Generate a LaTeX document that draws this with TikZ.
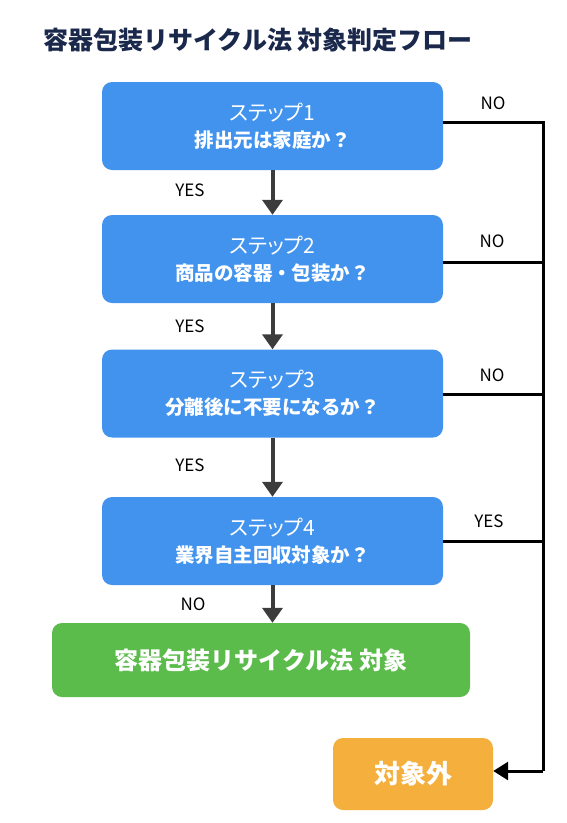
\documentclass[tikz,border=0pt]{standalone}
\usepackage{fontspec}
\setmainfont{Noto Sans CJK JP}
\newfontfamily\steplabelfont[RawFeature=+palt]{Noto Sans CJK JP}
\usetikzlibrary{arrows.meta,calc}
\definecolor{stepblue}{RGB}{66,147,238}
\definecolor{okgreen}{RGB}{91,187,75}
\definecolor{outorange}{RGB}{245,175,60}
\definecolor{titlenavy}{RGB}{26,40,75}
\definecolor{arrowgray}{RGB}{60,60,60}
\tikzset{
  stepbox/.style={fill=stepblue, rounded corners=10pt, minimum width=341pt, minimum height=88pt, text=white, align=center, inner sep=0pt},
  resbox/.style={rounded corners=10pt, text=white, inner sep=0pt, font=\bfseries},
  downarrow/.style={draw=arrowgray, line width=4pt, -{Triangle[width=20pt,length=15pt]}},
  busline/.style={draw=black, line width=3pt},
  lbl/.style={font=\fontsize{17}{20}\selectfont, text=black, inner sep=0pt},
}
\newcommand{\steptext}[2]{{\steplabelfont\fontsize{21}{24}\selectfont #1}\\[8pt]{\fontsize{19.5}{22}\selectfont\bfseries #2}}
\begin{document}
\begin{tikzpicture}[x=1pt,y=-1pt]
\useasboundingbox (0,0) rectangle (567,823);
\node[text=titlenavy, font=\fontsize{25}{30}\selectfont\bfseries, inner sep=0pt] (title) at (258,40) {容器包装リサイクル法 対象判定フロー};

\node[stepbox] (s1) at (272.5,126) {\steptext{ステップ1}{排出元は家庭か？}};
\node[stepbox] (s2) at (272.5,259) {\steptext{ステップ2}{商品の容器・包装か？}};
\node[stepbox] (s3) at (272.5,393.5) {\steptext{ステップ3}{分離後に不要になるか？}};
\node[stepbox] (s4) at (272.5,541) {\steptext{ステップ4}{業界自主回収対象か？}};

\node[resbox, fill=okgreen, minimum width=418pt, minimum height=74pt, font=\fontsize{24}{28}\selectfont\bfseries] (yes) at (261,660) {容器包装リサイクル法 対象};
\node[resbox, fill=outorange, minimum width=160pt, minimum height=72pt, font=\fontsize{26}{30}\selectfont\bfseries] (no) at (413,774) {対象外};

\draw[downarrow] (s1.south) -- (s2.north);
\draw[downarrow] (s2.south) -- (s3.north);
\draw[downarrow] (s3.south) -- (s4.north);
\draw[downarrow] (s4.south) -- (s4.south |- yes.north);

\coordinate (b1) at (543,122);
\coordinate (b2) at (543,262);
\coordinate (b3) at (543,394);
\coordinate (b4) at (543,541);
\coordinate (bend) at (543,771);

\draw[busline] (s1.east |- b1) -- (b1) -- (bend);
\draw[busline] (s2.east |- b2) -- (b2);
\draw[busline] (s3.east |- b3) -- (b3);
\draw[busline] (s4.east |- b4) -- (b4);
\draw[busline, -{Triangle[width=18pt,length=15pt]}] (bend) -- (no.east |- bend);

\node[lbl] (n1) at (493,103) {NO};
\node[lbl] (n2) at (492,241) {NO};
\node[lbl] (n3) at (492,375) {NO};
\node[lbl] (n4) at (489,521) {YES};
\node[lbl] (y1) at (190,190) {YES};
\node[lbl] (y2) at (190,326) {YES};
\node[lbl] (y3) at (190,465) {YES};
\node[lbl] (y4) at (193,604) {NO};
\end{tikzpicture}
\end{document}
